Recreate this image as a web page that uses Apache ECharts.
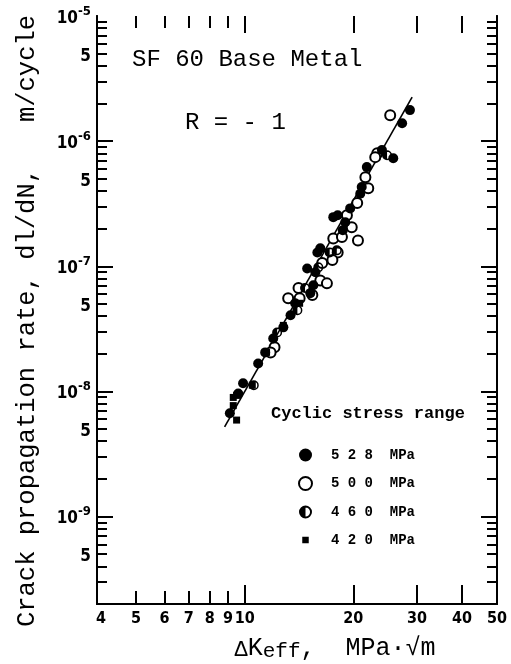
<!DOCTYPE html>
<html lang="en">
<head>
<meta charset="UTF-8">
<title>SF60 Base Metal</title>
<script src="https://cdn.jsdelivr.net/npm/echarts@6/dist/echarts.min.js"></script>
<style>html,body{margin:0;padding:0;background:#fff;}</style>
</head>
<body>
<div id="myChart" style="width:511px;height:664px;"></div>
<script>
// data: [dK_eff (MPa*sqrt(m)), dl/dN (m/cycle)]
var s528 = [[28.7,1.77e-6],[27.3,1.39e-6],[24.0,8.5e-7],[25.8,7.3e-7],[21.8,6.2e-7],[21.1,4.3e-7],[20.9,3.8e-7],
    [19.6,2.9e-7],[18.1,2.56e-7],[17.6,2.47e-7],[19.0,2.25e-7],[18.7,1.94e-7],[16.2,1.39e-7],[15.9,1.29e-7],
    [14.9,9.6e-8],[15.7,8.95e-8],[15.5,7.05e-8],[15.2,6.1e-8],[13.8,5.06e-8],[13.4,4.06e-8],[12.8,3.25e-8],
    [12.0,2.65e-8],[11.4,2.05e-8],[10.9,1.67e-8],[9.9,1.16e-8],[9.6,9.6e-9],[9.1,6.7e-9]];
var s500 = [[25.3,1.61e-6],[23.3,8.0e-7],[23.0,7.45e-7],[21.6,5.15e-7],[22.0,4.2e-7],[20.5,3.2e-7],[19.2,2.56e-7],
    [19.8,2.05e-7],[20.6,1.61e-7],[17.6,1.67e-7],[18.6,1.71e-7],[18.1,1.29e-7],[17.5,1.12e-7],[16.4,1.06e-7],
    [16.2,7.7e-8],[16.9,7.3e-8],[14.1,6.7e-8],[15.4,5.9e-8],[13.2,5.55e-8],[14.2,5.55e-8],[12.1,2.25e-8],[11.8,2.05e-8]];
var s460 = [[24.8,7.7e-7],[18.0,1.34e-7],[17.2,1.29e-7],[16.0,9.8e-8],[14.7,6.7e-8],[14.0,4.45e-8],[12.3,2.96e-8],[10.6,1.12e-8]];
var s420 = [[9.3,8.95e-9],[9.5,9.3e-9],[9.3,7.7e-9],[9.5,5.9e-9],[10.5,1.12e-8],[11.5,2.05e-8],[12.8,3.37e-8],[14.2,5.06e-8]];
var fitLine = [[8.8,5.2e-9],[29.1,2.25e-6]];

var seriesNames = ['528 MPa', '500 MPa', '460 MPa', '420 MPa'];

var xLabelValues = [4,5,6,7,8,9,10,20,30,40,50];
var xMinorTicks = [5,6,7,8,9];
var xMajorTicks = [10,20,30,40];
var yLabelValues = [5e-10,1e-9,5e-9,1e-8,5e-8,1e-7,5e-7,1e-6,5e-6,1e-5];
var yMajorTicks = [1e-9,1e-8,1e-7,1e-6];
var yMantissas = [2,3,4,5,6,7,8,9];
var yDecades = [-10,-9,-8,-7,-6];

var yMinorTicks = [];
yDecades.forEach(function (d) {
    yMantissas.forEach(function (m) { yMinorTicks.push(m * Math.pow(10, d)); });
});

var halfCircle = 'path://M0 10A10 10 0 1 1 20 10A10 10 0 1 1 0 10Z M3 10A7 7 0 1 0 17 10A7 7 0 1 0 3 10Z M10 20A10 10 0 0 1 10 0Z';
var smallSquare = 'path://M0 0L0.1 0L0 0.1Z M20 20L19.9 20L20 19.9Z M5 5H15V15H5Z';

var labelFont = "'Liberation Sans Narrow','DejaVu Sans Condensed','DejaVu Sans'";
var monoFont = "'Liberation Mono','DejaVu Sans Mono',monospace";

function yLabel(v) {
    var e = Math.floor(Math.log10(v) + 1e-9);
    var m = Math.round(v / Math.pow(10, e));
    return m === 1 ? '{b|10}{s|' + e + '}' : '{b|' + m + '}';
}

function xAxisDef(pos, ticks, len, withLabels) {
    return {
        type: 'log', position: pos, min: 3.9, max: 50,
        axisLine: {show: withLabels, lineStyle: {color: '#000', width: 2}},
        axisTick: {show: true, inside: true, length: len, customValues: ticks, lineStyle: {color: '#000', width: 2}},
        axisLabel: withLabels ? {
            customValues: xLabelValues, margin: 7, color: '#000',
            fontFamily: labelFont, fontSize: 16, fontWeight: 'bold'
        } : {show: false},
        splitLine: {show: false}
    };
}

function yAxisDef(pos, ticks, len, withLabels) {
    return {
        type: 'log', position: pos, min: 2e-10, max: 1e-5,
        axisLine: {show: true, lineStyle: {color: '#000', width: 2}},
        axisTick: {show: true, inside: true, length: len, customValues: ticks, lineStyle: {color: '#000', width: 2}},
        axisLabel: withLabels ? {
            customValues: yLabelValues, margin: 6, formatter: yLabel,
            rich: {
                b: {fontFamily: labelFont, fontSize: 17, fontWeight: 'bold', color: '#000', lineHeight: 22, verticalAlign: 'bottom'},
                s: {fontFamily: labelFont, fontSize: 13, fontWeight: 'bold', color: '#000', lineHeight: 13, verticalAlign: 'top'}
            }
        } : {show: false},
        splitLine: {show: false}
    };
}

var myChart = echarts.init(document.getElementById('myChart'));
var xAxes = [
    xAxisDef('bottom', xMinorTicks, 13, true),
    xAxisDef('bottom', xMajorTicks, 19, false),
    xAxisDef('top', xMinorTicks, 12, false),
    xAxisDef('top', xMajorTicks, 17, false)
];
xAxes[0].name = '{d|Δ}{k|K}{s|eff}{k|,  MPa·√m}';
xAxes[0].nameLocation = 'middle';
xAxes[0].nameGap = 11;
xAxes[0].nameTextStyle = {
    padding: [0, 0, 0, 76],
    rich: {
        d: {fontFamily: monoFont, fontSize: 22, color: '#000', lineHeight: 26, verticalAlign: 'top', padding: [3, 0, 0, 0]},
        k: {fontFamily: monoFont, fontSize: 25, color: '#000', lineHeight: 26, verticalAlign: 'top'},
        s: {fontFamily: monoFont, fontSize: 21, color: '#000', lineHeight: 20, verticalAlign: 'bottom', padding: [9, 0, 0, 0]}
    }
};
var yAxes = [
    yAxisDef('left', yMinorTicks, 10, true),
    yAxisDef('left', yMajorTicks, 16, false),
    yAxisDef('right', yMinorTicks, 10, false),
    yAxisDef('right', yMajorTicks, 16, false)
];
yAxes[0].name = 'Crack propagation rate, dl/dN,   m/cycle';
yAxes[0].nameLocation = 'middle';
yAxes[0].nameRotate = 90;
yAxes[0].nameGap = 57;
yAxes[0].nameTextStyle = {fontFamily: monoFont, fontSize: 25.5, color: '#000', padding: [0, 22, 0, 0]};

option = {
    animation: false,
    backgroundColor: '#fff',
    title: [
        {text: 'SF 60 Base Metal', left: 127, top: 43, textStyle: {fontFamily: monoFont, fontSize: 24, fontWeight: 'normal', color: '#000'}},
        {text: 'R = - 1', left: 180, top: 106, textStyle: {fontFamily: monoFont, fontSize: 24, fontWeight: 'normal', color: '#000'}},
        {text: 'Cyclic stress range', left: 266, top: 400, textStyle: {fontFamily: monoFont, fontSize: 17, fontWeight: 'bold', color: '#000'}}
    ],
    legend: {
        orient: 'vertical', left: 293, top: 443,
        itemWidth: 13, itemHeight: 13, itemGap: 14,
        selectedMode: false,
        formatter: function (n) { return n.split(' ')[0].split('').join(' ') + '  MPa'; },
        textStyle: {fontFamily: monoFont, fontSize: 14, fontWeight: 'bold', color: '#000', lineHeight: 13, padding: [0, 0, 0, 14]},
        data: [
            {name: seriesNames[0], icon: 'circle'},
            {name: seriesNames[1], icon: 'circle'},
            {name: seriesNames[2], icon: halfCircle},
            {name: seriesNames[3], icon: smallSquare}
        ]
    },
    grid: {left: 97, right: 14, top: 16, bottom: 60, outerBoundsMode: 'none'},
    xAxis: xAxes,
    yAxis: yAxes,
    series: [
        {type: 'line', data: fitLine, symbol: 'none', silent: true, z: 1,
            lineStyle: {color: '#000', width: 1.6}},
        {name: seriesNames[0], type: 'scatter', data: s528, symbol: 'circle', symbolSize: 10, z: 3,
            itemStyle: {color: '#000', opacity: 1}},
        {name: seriesNames[1], type: 'scatter', data: s500, symbol: 'circle', symbolSize: 10, z: 2,
            itemStyle: {color: '#fff', borderColor: '#000', borderWidth: 2, opacity: 1}},
        {name: seriesNames[2], type: 'scatter', data: s460, symbol: halfCircle, symbolSize: 10, z: 3,
            itemStyle: {color: '#000', opacity: 1}},
        {name: seriesNames[3], type: 'scatter', data: s420, symbol: 'rect', symbolSize: 7, z: 3,
            itemStyle: {color: '#000', opacity: 1}}
    ]
};
myChart.setOption(option);
</script>
</body>
</html>
